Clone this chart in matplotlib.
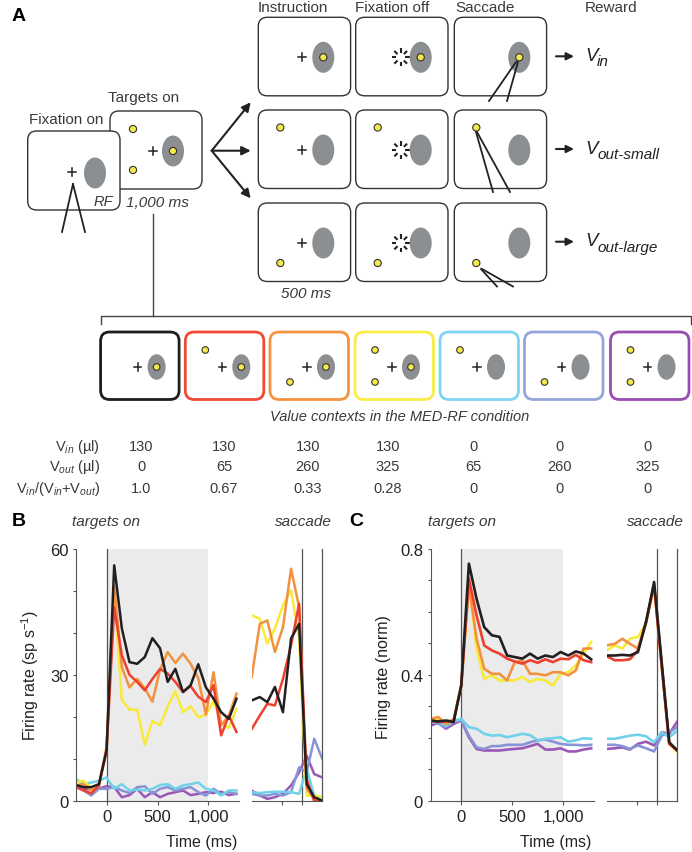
import numpy as np
import matplotlib.pyplot as plt
from matplotlib.patches import FancyBboxPatch, Ellipse, Circle

plt.rcParams['font.family'] = ['Liberation Sans', 'DejaVu Sans']
plt.rcParams['mathtext.fontset'] = 'custom'
plt.rcParams['mathtext.rm'] = 'Liberation Sans'
plt.rcParams['mathtext.it'] = 'Liberation Sans:italic'
plt.rcParams['mathtext.bf'] = 'Liberation Sans:bold'

# ---------------------------------------------------------------- data
t_on = [-300, -225, -150, -75, 0, 75, 150, 225, 300, 375, 450, 525, 600, 675,
        750, 825, 900, 975, 1050, 1125, 1200, 1275]
t_sac = [-500, -420, -345, -270, -190, -110, -30, 45, 120, 200]

# panel B, firing rate (sp/s), aligned on targets on
black_B = [3.8, 3.3, 3.3, 4.0, 12, 56, 41, 33, 32.6, 34.2, 38.7, 36.3, 28.3, 31.4, 25.9, 27.5, 32.5, 27, 24.3, 21.1, 19.5, 24.3]
red_B = [3.3, 2.5, 1.8, 3.7, 12, 46, 34.6, 30, 28.3, 26.3, 29, 31.4, 30.3, 28.3, 25.9, 27.3, 24.8, 23.5, 27.5, 15.6, 20.3, 16.4]
orange_B = [3.8, 4.0, 2.5, 3.5, 13, 51, 31.8, 27, 29, 26.8, 23.6, 31.2, 35.4, 32.8, 35, 32.6, 29.2, 20.5, 30.6, 18, 20.3, 25.5]
yellow_B = [4.5, 4.8, 3.0, 4.0, 12, 50, 24, 21.7, 21.7, 13.4, 19, 18, 22.5, 26.1, 21.1, 22.5, 19.9, 20.5, 23.7, 18.7, 17.3, 21.9]
cyan_B = [5.2, 4.0, 4.4, 4.8, 5.6, 2.9, 4.0, 2.5, 2.7, 2.5, 2.9, 3.8, 4.0, 2.9, 3.7, 4.0, 4.4, 2.9, 2.5, 1.3, 2.5, 2.5]
blue_B = [3.3, 2.5, 1.3, 2.9, 2.9, 3.3, 2.5, 1.9, 3.3, 3.5, 1.7, 2.9, 3.3, 2.5, 2.9, 3.3, 2.1, 1.3, 2.9, 1.7, 2.1, 1.7]
purple_B = [3.3, 2.9, 2.7, 3.0, 3.5, 3.3, 0.9, 1.4, 2.9, 0.9, 2.1, 0.9, 1.7, 2.1, 2.5, 1.4, 1.7, 2.1, 1.9, 2.2, 1.4, 1.7]
# panel B, aligned on saccade
black_Bs = [23.9, 24.7, 23.5, 27.1, 21.1, 38.6, 42.1, 4.0, 0.9, 0.1]
red_Bs = [17.1, 20.3, 23.1, 22.7, 29, 37, 46.9, 5.2, 0, 0]
orange_Bs = [29.4, 42.1, 42.9, 35.4, 41.3, 55.2, 46.1, 2.9, 0.5, 0]
yellow_Bs = [44.1, 43.3, 37.4, 41, 46.5, 50.1, 38.6, 1.3, 1.3, 0.9]
cyan_Bs = [2.1, 1.9, 2.1, 2.2, 2.2, 2.1, 1.7, 7.6, 1.3, 0.9]
blue_Bs = [1.7, 1.3, 1.3, 1.7, 1.3, 2.1, 8.0, 6.8, 14.8, 10]
purple_Bs = [2.5, 1.3, 0.5, 0.9, 1.7, 3.7, 6.8, 10.8, 6.4, 5.6]

# panel C, normalised firing rate, aligned on targets on
black_C = [0.255, 0.252, 0.255, 0.25, 0.366, 0.752, 0.641, 0.551, 0.525, 0.52, 0.461, 0.456, 0.451, 0.467, 0.451, 0.461, 0.456, 0.472, 0.461, 0.474, 0.467, 0.449]
red_C = [0.255, 0.25, 0.252, 0.255, 0.366, 0.705, 0.588, 0.493, 0.477, 0.467, 0.451, 0.442, 0.435, 0.446, 0.438, 0.449, 0.44, 0.451, 0.449, 0.463, 0.446, 0.44]
orange_C = [0.26, 0.266, 0.244, 0.255, 0.366, 0.684, 0.514, 0.419, 0.403, 0.403, 0.382, 0.44, 0.445, 0.403, 0.403, 0.398, 0.408, 0.408, 0.398, 0.414, 0.483, 0.483]
yellow_C = [0.255, 0.26, 0.25, 0.255, 0.366, 0.705, 0.483, 0.387, 0.398, 0.382, 0.382, 0.382, 0.393, 0.377, 0.387, 0.382, 0.366, 0.403, 0.408, 0.43, 0.467, 0.504]
cyan_C = [0.255, 0.252, 0.239, 0.255, 0.26, 0.234, 0.229, 0.213, 0.207, 0.209, 0.202, 0.207, 0.213, 0.209, 0.192, 0.197, 0.199, 0.202, 0.188, 0.192, 0.199, 0.197]
blue_C = [0.25, 0.245, 0.234, 0.25, 0.255, 0.207, 0.17, 0.165, 0.174, 0.174, 0.178, 0.178, 0.178, 0.186, 0.192, 0.195, 0.188, 0.181, 0.178, 0.178, 0.176, 0.178]
purple_C = [0.239, 0.248, 0.229, 0.244, 0.255, 0.202, 0.165, 0.16, 0.16, 0.16, 0.163, 0.165, 0.167, 0.174, 0.181, 0.163, 0.163, 0.167, 0.157, 0.157, 0.163, 0.167]
# panel C, aligned on saccade
black_Cs = [0.461, 0.461, 0.463, 0.461, 0.472, 0.567, 0.694, 0.44, 0.186, 0.16]
red_Cs = [0.459, 0.446, 0.446, 0.449, 0.477, 0.567, 0.684, 0.43, 0.181, 0.16]
orange_Cs = [0.493, 0.498, 0.514, 0.498, 0.483, 0.567, 0.684, 0.43, 0.184, 0.16]
yellow_Cs = [0.477, 0.493, 0.483, 0.514, 0.52, 0.562, 0.684, 0.43, 0.181, 0.155]
cyan_Cs = [0.197, 0.197, 0.202, 0.207, 0.21, 0.205, 0.186, 0.218, 0.202, 0.223]
blue_Cs = [0.178, 0.178, 0.174, 0.165, 0.176, 0.167, 0.157, 0.207, 0.218, 0.234]
purple_Cs = [0.165, 0.167, 0.17, 0.163, 0.181, 0.188, 0.176, 0.218, 0.213, 0.252]

# value contexts table
v_in = [130, 130, 130, 130, 0, 0, 0]
v_out = [0, 65, 260, 325, 65, 260, 325]
v_ratio = ['1.0', '0.67', '0.33', '0.28', '0', '0', '0']
# context layout: (target in RF, target top-left, target bottom-left)
contexts = [(True, False, False), (True, True, False), (True, False, True), (True, True, True),
            (False, True, False), (False, False, True), (False, True, True)]

cols = {'black': '#231f20', 'red': '#ec4030', 'orange': '#f2923f', 'yellow': '#f7ea3a',
        'cyan': '#70d2ea', 'blue': '#8794d6', 'purple': '#9b57b5'}
ctx_cols = ['#1e1e1e', '#ef4a36', '#f5943f', '#f8ec45', '#80d3f2', '#96a5d9', '#9a4cb0']

GRAY = '#8b8f92'
YEL = '#f5e84a'
LINE = '#333333'
TXT = '#3a3a3a'

fig = plt.figure(figsize=(6.92, 8.53), dpi=100)
axA = fig.add_axes([0, 0, 1, 1])
axA.set_xlim(0, 692)
axA.set_ylim(853, 0)
axA.axis('off')


def box(x, y, w, h, ec=LINE, lw=1.0, r=9, z=2):
    axA.add_patch(FancyBboxPatch((x, y), w, h, boxstyle='round,pad=0,rounding_size=%g' % r,
                                 fc='white', ec=ec, lw=lw, zorder=z))


def rf(x, y, w=22, h=31, z=3):
    axA.add_patch(Ellipse((x, y), w, h, fc=GRAY, ec='none', zorder=z))


def dot(x, y, r=3.6, z=4):
    axA.add_patch(Circle((x, y), r, fc=YEL, ec='#333333', lw=0.8, zorder=z))


def cross(x, y, s=4, z=4):
    axA.plot([x - s, x + s], [y, y], color='#222222', lw=1.1, zorder=z)
    axA.plot([x, x], [y - s, y + s], color='#222222', lw=1.1, zorder=z)


def burst(x, y, z=2.8):
    for a in np.deg2rad(np.arange(0, 360, 45)):
        axA.plot([x + 4.5 * np.cos(a), x + 9 * np.cos(a)], [y + 4.5 * np.sin(a), y + 9 * np.sin(a)],
                 color='#222222', lw=1.5, zorder=z, solid_capstyle='butt')


def arrow(x0, y0, x1, y1, lw=1.3, ms=12):
    axA.annotate('', xy=(x1, y1), xytext=(x0, y0),
                 arrowprops=dict(arrowstyle='-|>', color='#222222', lw=lw, mutation_scale=ms,
                                 shrinkA=0, shrinkB=0), zorder=5)


fs = 11
axA.text(12, 16, 'A', fontsize=14, fontweight='bold', va='center')

# fixation on / targets on
box(110, 112, 92, 78, z=1)
dot(133, 130, z=1.5)
dot(133, 171, z=1.5)
cross(153, 152, z=1.5)
rf(173, 152, z=1.4)
dot(173, 152, z=1.5)
box(27.7, 132, 92.3, 79, z=2)
cross(72, 173, z=2.5)
rf(95, 174, z=2.4)
axA.plot([73, 62], [185, 233], color='#222222', lw=1.3, zorder=3)
axA.plot([73, 85], [185, 233], color='#222222', lw=1.3, zorder=3)
axA.text(113, 202, 'RF', fontsize=10.5, style='italic', ha='right', va='center', color=TXT, zorder=3)
axA.text(29, 120, 'Fixation on', fontsize=fs, va='center', color=TXT)
axA.text(108, 98, 'Targets on', fontsize=fs, va='center', color=TXT)
axA.text(157.5, 203, '1,000 ms', fontsize=fs, style='italic', ha='center', va='center', color=TXT)

for yy in [103.3, 151.7, 199.3]:
    arrow(211.7, 151.7, 250.7, yy, lw=1.5, ms=13)

# trial epochs
col_x = [258.3, 355.7, 454.3]
row_y = [18.3, 111, 204]
bw, bh = 92.3, 78.5
for ci, cx in enumerate(col_x):
    for ri, ry in enumerate(row_y):
        box(cx, ry, bw, bh, z=2)
        rf(cx + 65, ry + 40, z=3)
        if ci == 0:
            cross(cx + 44, ry + 40)
        elif ci == 1:
            burst(cx + 45, ry + 40)
        if ri == 0:
            dot(cx + 65, ry + 40)
        elif ri == 1:
            dot(cx + 22, ry + 17.5)
        else:
            dot(cx + 22, ry + 60)

eye = [((516, 63), (489, 102)), ((518, 63), (507, 102)),
       ((476, 133), (493, 193)), ((477, 133), (510, 193)),
       ((481, 270), (497, 287.5)), ((482, 270), (513, 287.5))]
for (xa, ya), (xb, yb) in eye:
    axA.plot([xa, xb], [ya, yb], color='#222222', lw=1.3, zorder=6)

axA.text(258, 7.5, 'Instruction', fontsize=fs, va='center', color=TXT)
axA.text(355, 7.5, 'Fixation off', fontsize=fs, va='center', color=TXT)
axA.text(455, 7.5, 'Saccade', fontsize=fs, va='center', color=TXT)
axA.text(585, 7.5, 'Reward', fontsize=fs, va='center', color=TXT)
axA.text(306, 293.5, '500 ms', fontsize=fs, style='italic', ha='center', va='center', color=TXT)

for yy, sub in zip([57.3, 150, 242.7], ['in', 'out-small', 'out-large']):
    arrow(556, yy, 574, yy, lw=1.5, ms=11)
    axA.text(585, yy - 1, 'V', fontsize=13.5, style='italic', va='center', color='#222222')
    axA.text(597, yy + 5, sub, fontsize=11, style='italic', va='center', color='#222222')

# bracket to value contexts
axA.plot([153, 153], [215, 316.7], color='#444444', lw=1.0)
axA.plot([100.6, 100.6, 690.6, 690.6], [325, 316.7, 316.7, 325], color='#444444', lw=1.0)

ctx_left = [100.6, 185.3, 270, 355, 440, 524.5, 610.5]
for lx, ec, (inrf, top, bot) in zip(ctx_left, ctx_cols, contexts):
    box(lx, 333, 78.5, 67.5, ec=ec, lw=2.0, r=9, z=2)
    cross(lx + 37, 368, s=3.8)
    rf(lx + 56, 368, w=18, h=25.5)
    if inrf:
        dot(lx + 56, 368, r=3.3)
    if top:
        dot(lx + 20, 351, r=3.3)
    if bot:
        dot(lx + 20, 383, r=3.3)

axA.text(400, 417, 'Value contexts in the MED-RF condition', fontsize=10.5, style='italic',
         ha='center', va='center', color=TXT)

tab_x = [141, 224, 308, 388, 473, 560, 648]
tab_y = [446.7, 467.3, 489]
row_lab = [r'V$_{in}$ (µl)', r'V$_{out}$ (µl)', r'V$_{in}$/(V$_{in}$+V$_{out}$)']
for yy, lab in zip(tab_y, row_lab):
    axA.text(100, yy, lab, fontsize=10.5, ha='right', va='center', color=TXT)
for xx, a, b, c in zip(tab_x, v_in, v_out, v_ratio):
    axA.text(xx, tab_y[0], str(a), fontsize=10.5, ha='center', va='center', color=TXT)
    axA.text(xx, tab_y[1], str(b), fontsize=10.5, ha='center', va='center', color=TXT)
    axA.text(xx, tab_y[2], c, fontsize=10.5, ha='center', va='center', color=TXT)

# panel letters and epoch labels
axA.text(12, 522, 'B', fontsize=14, fontweight='bold', va='center')
axA.text(349, 522, 'C', fontsize=14, fontweight='bold', va='center')
for xx, s in [(106, 'targets on'), (303, 'saccade'), (461.7, 'targets on'), (655, 'saccade')]:
    axA.text(xx, 522, s, fontsize=fs, style='italic', ha='center', va='center', color=TXT)


# ---------------------------------------------------------------- panels B and C
def fr(px):
    return px / 692.0


def fy(py):
    return 1 - py / 853.0


order_on = ['purple', 'blue', 'cyan', 'yellow', 'orange', 'red', 'black']
B_on = dict(black=black_B, red=red_B, orange=orange_B, yellow=yellow_B, cyan=cyan_B, blue=blue_B, purple=purple_B)
B_sac = dict(black=black_Bs, red=red_Bs, orange=orange_Bs, yellow=yellow_Bs, cyan=cyan_Bs, blue=blue_Bs, purple=purple_Bs)
C_on = dict(black=black_C, red=red_C, orange=orange_C, yellow=yellow_C, cyan=cyan_C, blue=blue_C, purple=purple_C)
C_sac = dict(black=black_Cs, red=red_Cs, orange=orange_Cs, yellow=yellow_Cs, cyan=cyan_Cs, blue=blue_Cs, purple=purple_Cs)

bottom = fy(802)
height = (802 - 549.5) / 853.0
tick_kw = dict(labelsize=12, length=3, width=0.8, color='#555555', direction='out', pad=3,
               labelcolor='#222222')


def make_panel(left_px, sac_px, on_data, sac_data, ylim, yt, ytl, ymin, lw):
    ax = fig.add_axes([fr(left_px), bottom, fr(163), height])
    ax.axvspan(0, 1000, color='#ebebeb', lw=0, zorder=0)
    ax.axvline(0, color='#555555', lw=0.9, zorder=1)
    for k in order_on:
        ax.plot(t_on, on_data[k], color=cols[k], lw=lw, zorder=2)
    ax.set_xlim(-300, 1300)
    ax.set_ylim(0, ylim)
    ax.set_xticks([0, 500, 1000])
    ax.set_xticklabels(['0', '500', '1,000'])
    ax.set_yticks(yt)
    ax.set_yticklabels(ytl)
    ax.set_yticks(ymin, minor=True)
    for s in ['top', 'right']:
        ax.spines[s].set_visible(False)
    for s in ['left', 'bottom']:
        ax.spines[s].set_color('#555555')
        ax.spines[s].set_linewidth(0.8)
    ax.tick_params(which='both', **tick_kw)
    ax.tick_params(axis='y', which='both', length=2.5)
    ax.patch.set_alpha(0)

    axs = fig.add_axes([fr(sac_px), bottom, fr(70.6), height])
    axs.axvline(0, color='#555555', lw=0.9, zorder=1)
    axs.axvline(200, color='#555555', lw=0.9, zorder=1, clip_on=False)
    for k in order_on:
        axs.plot(t_sac, sac_data[k], color=cols[k], lw=lw, zorder=2)
    axs.set_xlim(-500, 200)
    axs.set_ylim(0, ylim)
    axs.set_xticks([-200, 0])
    axs.set_xticklabels([])
    axs.set_yticks([])
    for s in ['top', 'right', 'left']:
        axs.spines[s].set_visible(False)
    axs.spines['bottom'].set_color('#555555')
    axs.spines['bottom'].set_linewidth(0.8)
    axs.tick_params(**tick_kw)
    axs.patch.set_alpha(0)
    return ax, axs


make_panel(76, 251.7, B_on, B_sac, 60, [0, 30, 60], ['0', '30', '60'], [10, 20, 40, 50], 1.8)
make_panel(430.7, 606.7, C_on, C_sac, 0.8, [0, 0.4, 0.8], ['0', '0.4', '0.8'],
           [0.1, 0.2, 0.3, 0.5, 0.6, 0.7], 1.9)

fig.text(fr(30), fy(676), r'Firing rate (sp s$^{-1}$)', fontsize=11.5, rotation=90,
         ha='center', va='center', color='#222222')
fig.text(fr(384), fy(677), 'Firing rate (norm)', fontsize=11.5, rotation=90,
         ha='center', va='center', color='#222222')
fig.text(fr(201.5), fy(843), 'Time (ms)', fontsize=11.5, ha='center', va='center', color='#222222')
fig.text(fr(555.6), fy(843), 'Time (ms)', fontsize=11.5, ha='center', va='center', color='#222222')

fig.savefig('out.png', dpi=100)
